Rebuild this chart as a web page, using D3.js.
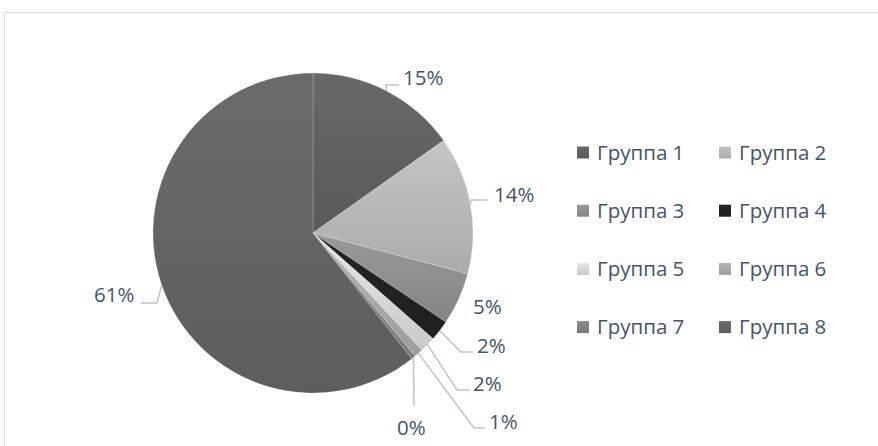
<!DOCTYPE html>
<style>
    body { margin: 0; background: #fff; }
    text { font-family: "Open Sans", sans-serif; fill: #44546a; }
</style>
<svg width="878" height="446"></svg>
<script src="https://d3js.org/d3.v7.min.js"></script>
<script>

    // chart data
    var groups = ["Группа 1", "Группа 2", "Группа 3", "Группа 4",
                  "Группа 5", "Группа 6", "Группа 7", "Группа 8"];
    var shares = [15.2, 13.9, 5.3, 2.1, 1.6, 0.9, 0.4, 60.6];
    var labels = ["15%", "14%", "5%", "2%", "2%", "1%", "0%", "61%"];
    var colors = ["#5f5f5f", "#b4b4b4", "#8c8c8c", "#222222",
                  "#d4d4d4", "#a6a6a6", "#7f7f7f", "#626262"];

    // where the data labels sit (text left x, text middle y) and the elbow of the leader line
    var labelPos = [
        {x: 403, y: 78,  elbow: [386, 85],  end: 399},
        {x: 494, y: 195, elbow: [471, 200], end: 488},
        {x: 473, y: 307, elbow: null,       end: null},
        {x: 477, y: 346, elbow: [461, 352], end: 473},
        {x: 473, y: 384, elbow: [457, 390], end: 470},
        {x: 489, y: 422, elbow: [474, 428], end: 485},
        {x: 397, y: 428, elbow: [414, 406], end: null},
        {x: 94,  y: 295, elbow: [157, 303], end: 141}
    ];

    var svg = d3.select("svg"),
        cx = 313, cy = 233, r = 160;

    // chart frame (runs off the right and bottom edge)
    svg.append("rect")
        .attr("x", 4.5).attr("y", 12.5)
        .attr("width", 890).attr("height", 450)
        .attr("fill", "none")
        .attr("stroke", "#d9dde3");

    var defs = svg.append("defs");
    colors.forEach(function (c, i) {
        var g = defs.append("linearGradient")
            .attr("id", "grad" + i)
            .attr("x1", 0).attr("y1", 0).attr("x2", 0).attr("y2", 1);
        g.append("stop").attr("offset", 0).attr("stop-color", d3.color(c).brighter(0.25));
        g.append("stop").attr("offset", 1).attr("stop-color", d3.color(c).darker(0.15));
    });

    var pie = d3.pie().sort(null).value(function (d) { return d; });
    var arcs = pie(shares);
    var arc = d3.arc().innerRadius(0).outerRadius(r);

    var chart = svg.append("g").attr("transform", "translate(" + cx + "," + cy + ")");

    chart.selectAll("path.slice")
        .data(arcs)
        .enter().append("path")
        .attr("class", "slice")
        .attr("d", arc)
        .attr("fill", function (d, i) { return "url(#grad" + i + ")"; })
        .attr("stroke", "#fff")
        .attr("stroke-opacity", 0.35)
        .attr("stroke-width", 0.6);

    // leader lines from the middle of each slice edge
    arcs.forEach(function (d, i) {
        var p = labelPos[i];
        if (!p.elbow) return;
        var a = (d.startAngle + d.endAngle) / 2;
        var pts = [[cx + r * Math.sin(a), cy - r * Math.cos(a)], p.elbow];
        if (p.end !== null) pts.push([p.end, p.elbow[1]]);
        svg.append("path")
            .attr("d", d3.line()(pts))
            .attr("fill", "none")
            .attr("stroke", "#b8c4d2")
            .attr("stroke-width", 1.5);
    });

    svg.selectAll("text.lbl")
        .data(labels)
        .enter().append("text")
        .attr("class", "lbl")
        .attr("x", function (d, i) { return labelPos[i].x; })
        .attr("y", function (d, i) { return labelPos[i].y; })
        .attr("dy", "0.35em")
        .attr("font-size", 20.5)
        .text(function (d) { return d; });

    // legend, two columns
    var legend = svg.append("g");
    var item = legend.selectAll("g")
        .data(groups)
        .enter().append("g")
        .attr("transform", function (d, i) {
            return "translate(" + (577 + (i % 2) * 142) + "," + (152.5 + Math.floor(i / 2) * 58.2) + ")";
        });
    item.append("rect")
        .attr("x", 0).attr("y", -6)
        .attr("width", 12).attr("height", 12)
        .attr("fill", function (d, i) { return "url(#grad" + i + ")"; });
    item.append("text")
        .attr("x", 20)
        .attr("dy", "0.35em")
        .attr("font-size", 20.5)
        .text(function (d) { return d; });

</script>
